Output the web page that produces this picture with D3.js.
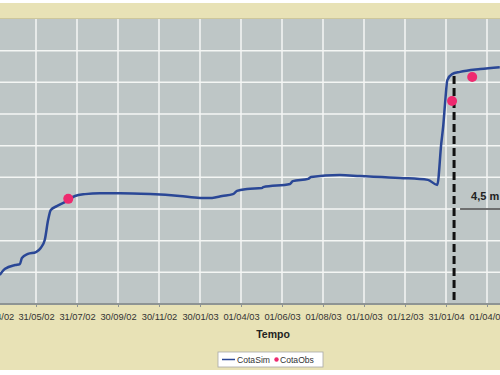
<!DOCTYPE html>
<head>
  <meta charset="utf-8">
  <script src="https://d3js.org/d3.v7.min.js"></script>
  <style>
    body { margin: 0; background: #ffffff; }
    svg { display: block; font-family: "Liberation Sans", Arial, sans-serif; }
  </style>
</head>
<body>
<script>
  // tick labels of the date axis
  var tickLabels = ["01/04/02", "31/05/02", "31/07/02", "30/09/02", "30/11/02", "30/01/03",
                    "01/04/03", "01/06/03", "01/08/03", "01/10/03", "01/12/03", "31/01/04", "01/04/04"];

  // CotaSim (simulated level, m)
  var simDates = ["2002-04-07", "2002-04-15", "2002-04-30", "2002-05-07", "2002-05-10", "2002-05-19",
                  "2002-05-31", "2002-06-07", "2002-06-13", "2002-06-18", "2002-06-22", "2002-07-01",
                  "2002-07-13", "2002-07-28", "2002-08-12", "2002-09-03", "2002-10-03", "2002-11-17",
                  "2002-12-31", "2003-01-30", "2003-02-17", "2003-03-04", "2003-03-20", "2003-03-26",
                  "2003-04-10", "2003-05-02", "2003-05-04", "2003-06-13", "2003-06-17", "2003-07-10",
                  "2003-07-14", "2003-08-26", "2003-09-25", "2003-11-24", "2004-01-04", "2004-01-18",
                  "2004-01-24", "2004-01-27", "2004-01-30", "2004-02-02", "2004-02-09", "2004-02-21",
                  "2004-03-22", "2004-04-20"];
  var simValues = [0.92, 1.11, 1.23, 1.26, 1.45, 1.58,
                   1.64, 1.77, 2.02, 2.65, 2.97, 3.09,
                   3.22, 3.41, 3.47, 3.50, 3.50, 3.47,
                   3.41, 3.35, 3.35, 3.41, 3.47, 3.57,
                   3.63, 3.66, 3.69, 3.79, 3.88, 3.95,
                   4.01, 4.07, 4.04, 3.98, 3.92, 3.76,
                   5.08, 5.65, 6.44, 7.07, 7.26, 7.33,
                   7.42, 7.48];

  // CotaObs (observed level, m)
  var obsDates = ["2002-07-18", "2004-02-09", "2004-03-10"];
  var obsValues = [3.32, 6.41, 7.17];

  // annotation: dashed drop line and "4,5 m" mark
  var dropDate = "2004-02-12";
  var dropTop = 7.2;
  var markLevel = 3.0;
  var markText = "4,5 m";

  var yTicks = [0, 1, 2, 3, 4, 5, 6, 7, 8, 9];

  var w = 500, h = 375;
  var parseLabel = d3.timeParse("%d/%m/%y");
  var parseIso = d3.timeParse("%Y-%m-%d");

  var svg = d3.select("body").append("svg")
    .attr("width", w)
    .attr("height", h);

  // chart area background
  svg.append("rect").attr("x", 0).attr("y", 3).attr("width", w).attr("height", 367)
    .attr("fill", "#e8e2b6");

  var x = d3.scaleTime()
    .domain([parseLabel("31/05/02"), parseLabel("31/01/04")])
    .range([36, 446]);
  var y = d3.scaleLinear().domain([0, 9]).range([304, 19]);

  // plot area
  svg.append("rect").attr("x", 0).attr("y", y(9)).attr("width", w).attr("height", y(0) - y(9))
    .attr("fill", "#bec6c6");
  svg.append("line").attr("x1", 0).attr("x2", w).attr("y1", y(9) - 0.5).attr("y2", y(9) - 0.5)
    .attr("stroke", "#cdc79c").attr("stroke-width", 1);

  var tickDates = tickLabels.map(parseLabel);

  // grid
  svg.append("g").selectAll("line").data(yTicks.slice(1, -1)).enter().append("line")
    .attr("x1", 0).attr("x2", w)
    .attr("y1", function(d) { return y(d); }).attr("y2", function(d) { return y(d); })
    .attr("stroke", "#f4f6f4").attr("stroke-width", 1.5);
  svg.append("g").selectAll("line").data(tickDates).enter().append("line")
    .attr("x1", function(d) { return x(d); }).attr("x2", function(d) { return x(d); })
    .attr("y1", y(9)).attr("y2", y(0))
    .attr("stroke", "#f4f6f4").attr("stroke-width", 1.5);

  // x axis (first and last labels run off the edge, as in the cropped original)
  var xAxis = d3.axisBottom(x)
    .tickValues(tickDates)
    .tickFormat(d3.timeFormat("%d/%m/%y"))
    .tickSize(3)
    .tickPadding(6);
  var gx = svg.append("g").attr("transform", "translate(0," + y(0) + ")").call(xAxis);
  gx.select(".domain").remove();
  gx.append("line").attr("x1", 0).attr("x2", w).attr("y1", 0).attr("y2", 0)
    .attr("stroke", "#8e9494").attr("stroke-width", 2);
  gx.selectAll(".tick line").attr("stroke", "#8e9494");
  gx.selectAll(".tick text").attr("fill", "#333333").style("font-size", "9.3px")
    .style("font-family", "'Liberation Sans', Arial, sans-serif");

  svg.append("text").attr("x", 273).attr("y", 338).attr("text-anchor", "middle")
    .attr("font-size", "10.5px").attr("font-weight", "bold").attr("fill", "#222")
    .text("Tempo");

  // annotation
  svg.append("line")
    .attr("x1", x(parseIso(dropDate))).attr("x2", x(parseIso(dropDate)))
    .attr("y1", y(dropTop)).attr("y2", y(0))
    .attr("stroke", "#111").attr("stroke-width", 3).attr("stroke-dasharray", "8,4");
  svg.append("line")
    .attr("x1", x(parseIso(dropDate)) + 6).attr("x2", w)
    .attr("y1", y(markLevel)).attr("y2", y(markLevel))
    .attr("stroke", "#444").attr("stroke-width", 1.3);
  svg.append("text").attr("x", x(parseIso(dropDate)) + 17).attr("y", y(markLevel) - 9)
    .attr("font-size", "11px").attr("font-weight", "bold").attr("fill", "#222")
    .text(markText);

  // CotaSim line
  var line = d3.line()
    .x(function(d, i) { return x(parseIso(simDates[i])); })
    .y(function(d) { return y(d); })
    .curve(d3.curveMonotoneX);
  svg.append("path").datum(simValues)
    .attr("d", line)
    .attr("fill", "none").attr("stroke", "#2a4796").attr("stroke-width", 2.5)
    .attr("stroke-linejoin", "round");

  // CotaObs points
  svg.append("g").selectAll("circle").data(obsValues).enter().append("circle")
    .attr("cx", function(d, i) { return x(parseIso(obsDates[i])); })
    .attr("cy", function(d) { return y(d); })
    .attr("r", 5)
    .attr("fill", "#ee2a6f");

  // legend
  var lg = svg.append("g").attr("transform", "translate(218,352)");
  lg.append("rect").attr("width", 105).attr("height", 15)
    .attr("fill", "#ffffff").attr("stroke", "#a8a8a8").attr("stroke-width", 0.8);
  lg.append("line").attr("x1", 4).attr("x2", 17).attr("y1", 7.5).attr("y2", 7.5)
    .attr("stroke", "#2a4796").attr("stroke-width", 1.5);
  lg.append("text").attr("x", 19).attr("y", 11).attr("font-size", "8.6px").attr("fill", "#333")
    .text("CotaSim");
  lg.append("circle").attr("cx", 58.5).attr("cy", 7.5).attr("r", 2.2).attr("fill", "#ee2a6f");
  lg.append("text").attr("x", 62).attr("y", 11).attr("font-size", "8.6px").attr("fill", "#333")
    .text("CotaObs");
</script>
</body>
